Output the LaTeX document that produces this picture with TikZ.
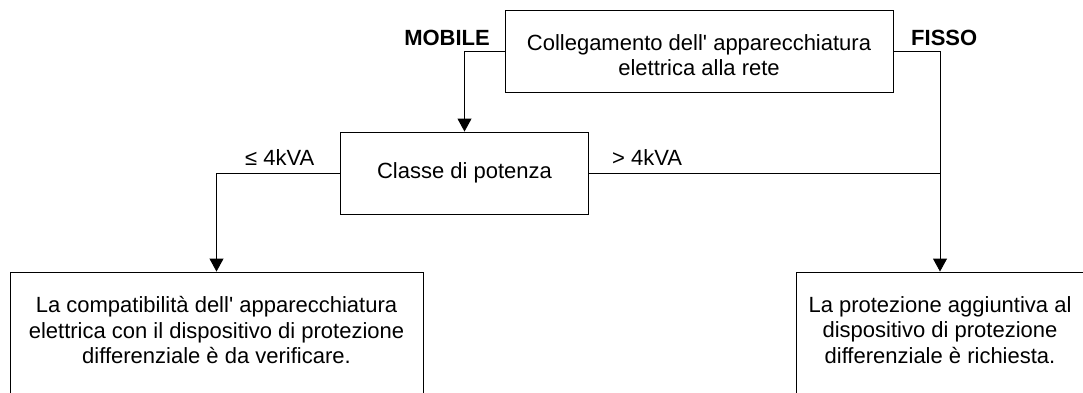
\documentclass[tikz,border=0pt]{standalone}
\usepackage{fontspec}
\setmainfont[Ligatures=TeXOff]{Liberation Sans}
\usetikzlibrary{arrows.meta}
\begin{document}
\begin{tikzpicture}[x=1pt,y=-1pt,
  box/.style={draw, line width=0.9pt, inner sep=0pt},
  txt/.style={font=\fontsize{22}{25.5}\selectfont, align=center, inner sep=0pt},
  lbl/.style={font=\fontsize{22}{25.5}\selectfont, inner sep=0pt},
  conn/.style={line width=0.9pt},
  arr/.style={conn, -{Triangle[width=14pt,length=13pt]}}]
\useasboundingbox (0,0) rectangle (1083,392);
% boxes
\node[box, minimum width=388pt, minimum height=82pt] (top) at (699,51) {};
\node[txt] (toptext) at (699,55) {Collegamento dell' apparecchiatura\\elettrica alla rete};
\node[box, minimum width=248pt, minimum height=82pt] (mid) at (464.5,173) {};
\node[txt] (midtext) at (mid.center) {Classe di potenza};
\node[box, minimum width=413pt, minimum height=128pt] (lbox) at (216.5,336) {};
\node[txt] (ltext) at (216.5,330) {La compatibilità dell' apparecchiatura\\elettrica con il dispositivo di protezione\\differenziale è da verificare.};
\node[box, minimum width=288pt, minimum height=128pt] (rbox) at (940,336) {};
\node[txt] (rtext) at (940,330) {La protezione aggiuntiva al\\dispositivo di protezione\\differenziale è richiesta.};
% labels
\node[lbl, anchor=base east, font=\fontsize{22}{25.5}\selectfont\bfseries] (mobile) at (490,45) {MOBILE};
\node[lbl, anchor=base west, font=\fontsize{22}{25.5}\selectfont\bfseries] (fisso) at (911,45) {FISSO};
\node[lbl, anchor=base west] (le) at (245,165) {≤ 4kVA};
\node[lbl, anchor=base west] (gt) at (612,165) {> 4kVA};
% connectors
\draw[arr] (top.west) -| (mid.north);
\draw[arr] (top.east) -| (rbox.north);
\coordinate (jr) at (mid.east -| rbox.north);
\draw[conn] (mid.east) -- (jr);
\draw[arr] (mid.west) -| (lbox.north);
\end{tikzpicture}
\end{document}
